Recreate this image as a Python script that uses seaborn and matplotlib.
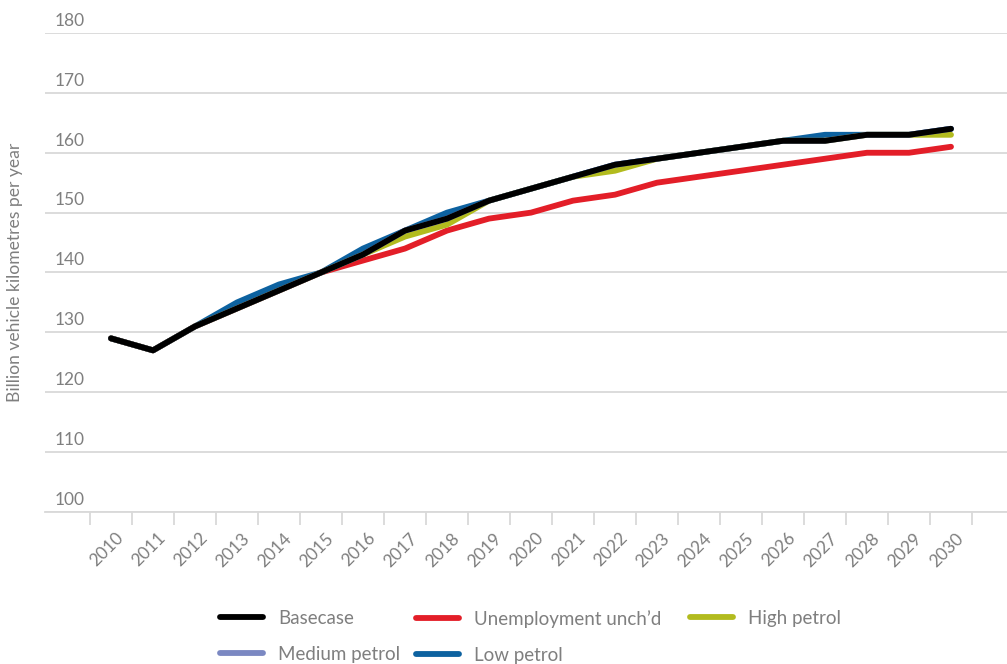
import matplotlib
matplotlib.use("Agg")
import matplotlib.pyplot as plt
import matplotlib.transforms as mtransforms
from matplotlib.lines import Line2D
import seaborn as sns
import pandas as pd

# Vehicle kilometres travelled, billions per year, by scenario
years = list(range(2010, 2031))
basecase = [129, 127, 131, 134, 137, 140, 143, 147, 149, 152, 154, 156, 158, 159, 160, 161, 162, 162, 163, 163, 164]
unemployment = [129, 127, 131, 134, 137, 140, 142, 144, 147, 149, 150, 152, 153, 155, 156, 157, 158, 159, 160, 160, 161]
high_petrol = [129, 127, 131, 134, 137, 140, 143, 146, 148, 152, 154, 156, 157, 159, 160, 161, 162, 162, 163, 163, 163]
medium_petrol = [129, 127, 131, 134, 137, 140, 143, 147, 149, 152, 154, 156, 158, 159, 160, 161, 162, 162, 163, 163, 164]
low_petrol = [129, 127, 131, 135, 138, 140, 144, 147, 150, 152, 154, 156, 158, 159, 160, 161, 162, 163, 163, 163, 164]

series_names = ["Basecase", "Unemployment unch\u2019d", "High petrol", "Medium petrol", "Low petrol"]
series_values = [basecase, unemployment, high_petrol, medium_petrol, low_petrol]
colors = {
    "Basecase": "#000000",
    "Unemployment unch\u2019d": "#e31e28",
    "High petrol": "#b2bb1e",
    "Medium petrol": "#7b88c2",
    "Low petrol": "#0d62a0",
}
y_ticks = [100, 110, 120, 130, 140, 150, 160, 170, 180]

sns.set_theme(style="white")
plt.rcParams["font.family"] = ["Lato", "DejaVu Sans"]
text_gray = "#7f7f7f"
grid_gray = "#d9d9d9"
line_w = 4.2

rows = []
for name, vals in zip(series_names, series_values):
    for i, v in enumerate(vals):
        rows.append({"idx": i, "year": years[i], "value": v, "series": name})
df = pd.DataFrame(rows)

W, H = 1007, 664
fig = plt.figure(figsize=(W / 100, H / 100), dpi=100)
ax = fig.add_axes([45 / W, 1 - 512 / H, 1 - 45 / W, (512 - 33) / H])

# draw order: lower layers first, basecase on top
draw_order = ["Unemployment unch\u2019d", "Low petrol", "High petrol", "Medium petrol", "Basecase"]
for z, name in enumerate(draw_order):
    sub = df[df["series"] == name]
    sns.lineplot(data=sub, x="idx", y="value", ax=ax, color=colors[name],
                 linewidth=line_w, legend=False, zorder=3 + z,
                 solid_capstyle="round", solid_joinstyle="round")

n = len(years)
left_px, right_px, first_px, step_px = 45, 1007, 111, 42
ax.set_xlim((left_px - first_px) / step_px, (right_px - first_px) / step_px)
ax.set_ylim(100, 180)

# horizontal gridlines
ax.set_yticks(y_ticks)
ax.set_yticklabels([])
ax.tick_params(axis="y", length=0)
ax.grid(axis="y", color=grid_gray, linewidth=1.3)
ax.grid(axis="x", visible=False)
ax.set_axisbelow(True)

# y tick labels sit just above their gridlines
label_tf = mtransforms.blended_transform_factory(fig.transFigure, ax.transData)
for yv in y_ticks:
    ax.text(55 / W, yv, str(yv), transform=label_tf + mtransforms.ScaledTranslation(0, 3 / 72, fig.dpi_scale_trans),
            ha="left", va="bottom", fontsize=12.5, color=text_gray)

# category boundary ticks
ax.set_xticks([i - 0.5 for i in range(n + 1)])
ax.set_xticklabels([])
ax.tick_params(axis="x", length=9, width=1.3, color=grid_gray, direction="out", bottom=True)

for s in ["top", "right", "left"]:
    ax.spines[s].set_visible(False)
ax.spines["bottom"].set_color(grid_gray)
ax.spines["bottom"].set_linewidth(1.3)

# rotated year labels
offset = mtransforms.ScaledTranslation(7 / 72, -17 / 72, fig.dpi_scale_trans)
for i, yr in enumerate(years):
    ax.text(i, 100, str(yr), transform=ax.transData + offset, rotation=45,
            rotation_mode="anchor", ha="right", va="center",
            fontsize=12.5, color=text_gray)

ax.set_xlabel("")
ax.set_ylabel("")
fig.text(15 / W, 1 - 272 / H, "Billion vehicle kilometres per year", rotation=90,
         ha="center", va="center", fontsize=12.6, color=text_gray)

# legend laid out in three columns
legend_cols = [
    (220, ["Basecase", "Medium petrol"]),
    (416, ["Unemployment unch\u2019d", "Low petrol"]),
    (690, ["High petrol"]),
]
for x_px, names in legend_cols:
    handles = [Line2D([0], [0], color=colors[nm], linewidth=line_w, solid_capstyle="round") for nm in names]
    fig.legend(handles, names, loc="upper left",
               bbox_to_anchor=(x_px / W, 1 - 610 / H),
               frameon=False, fontsize=13.5, handlelength=2.3, handletextpad=0.8,
               labelspacing=1.0, borderpad=0, borderaxespad=0, labelcolor=text_gray)

fig.savefig("out.png", dpi=100)
